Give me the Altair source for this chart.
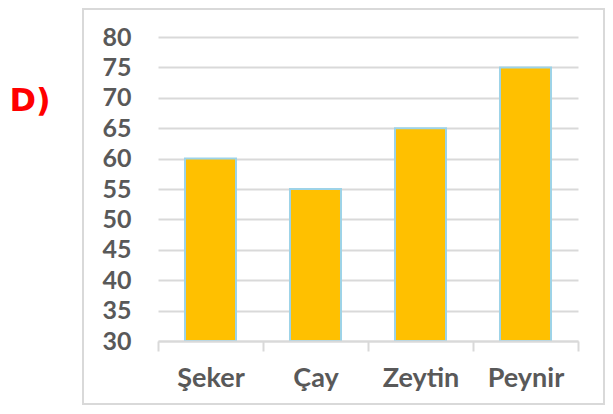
import altair as alt
import pandas as pd

categories = ["Şeker", "Çay", "Zeytin", "Peynir"]
values = [60, 55, 65, 75]
y_ticks = [30, 35, 40, 45, 50, 55, 60, 65, 70, 75, 80]

df = pd.DataFrame({"cat": categories, "val": values})

FONT = "Lato"
LABEL_COLOR = "#595959"
GRID = "#D9D9D9"

bars = alt.Chart(df).mark_bar(
    color="#FFC000", stroke="#9DD3E8", strokeWidth=2,
    width=alt.RelativeBandSize(0.486)
).encode(
    x=alt.X("cat:N", sort=categories, title=None,
            scale=alt.Scale(paddingInner=0, paddingOuter=0),
            axis=alt.Axis(labelAngle=0, domainColor=GRID, domainWidth=2,
                          tickColor=GRID, tickWidth=2, tickSize=10,
                          tickBand="extent", labelPadding=14,
                          labelFont=FONT, labelFontSize=27, labelFontWeight="bold",
                          labelColor=LABEL_COLOR, zindex=1)),
    y=alt.Y("val:Q", title=None,
            scale=alt.Scale(domain=[30, 80], zero=False, nice=False, clamp=True),
            axis=alt.Axis(values=y_ticks, domain=False, ticks=False,
                          gridColor=GRID, gridWidth=2, labelPadding=27,
                          labelFont=FONT, labelFontSize=25, labelFontWeight="bold",
                          labelColor=LABEL_COLOR)),
)

frame = alt.Chart(alt.Data(values=[{}])).mark_rect(
    fillOpacity=0, stroke=GRID, strokeWidth=2
).encode(
    x=alt.value(-75), x2=alt.value(446), y=alt.value(-28), y2=alt.value(367)
)

label = alt.Chart(alt.Data(values=[{}])).mark_text(
    text="D)", color="#FF0000", font="DejaVu Sans", fontWeight="bold",
    fontSize=32, align="center", baseline="middle"
).encode(x=alt.value(-128), y=alt.value(64))

chart = alt.layer(frame, bars, label).properties(
    width=420, height=304,
    autosize=alt.AutoSizeParams(type="none"),
    padding={"left": 150, "top": 29, "right": 27, "bottom": 64},
).configure_view(stroke=None)

chart.save("out.html", embed_options={"renderer": "svg", "actions": False})
